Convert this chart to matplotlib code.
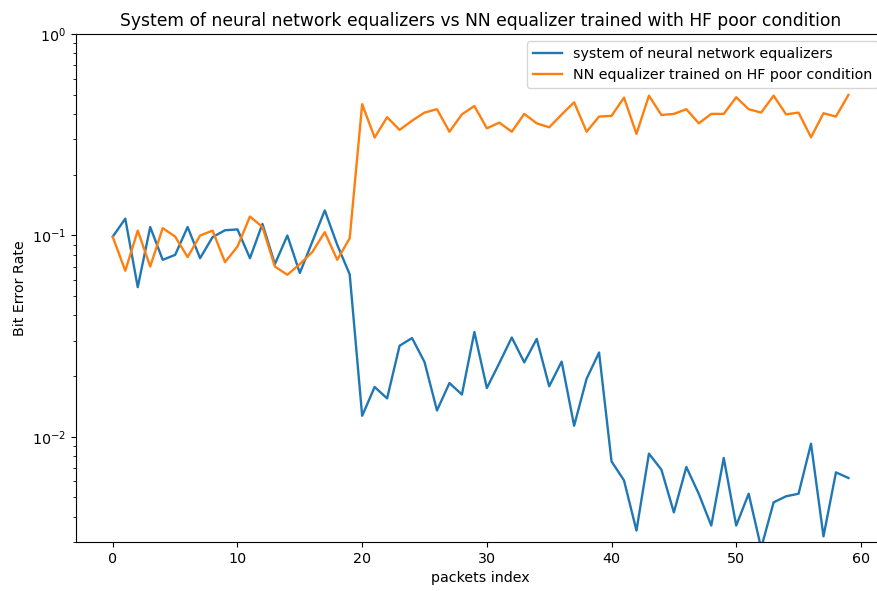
import matplotlib
matplotlib.use("Agg")
import matplotlib.pyplot as plt
import numpy as np

plt.rcParams["font.size"] = 10.3

packets = np.arange(60)

# BER per packet, system of equalizers
ber_system = [0.0986, 0.121, 0.0553, 0.110, 0.0756, 0.080, 0.110, 0.077, 0.098, 0.106,
              0.107, 0.077, 0.114, 0.072, 0.0998, 0.065, 0.093, 0.133, 0.0897, 0.064,
              0.0127, 0.01766, 0.0155, 0.0283, 0.0309, 0.0235, 0.0135, 0.01847, 0.0162, 0.0331,
              0.01745, 0.0232, 0.0311, 0.0234, 0.0306, 0.0178, 0.0236, 0.01134, 0.0194, 0.0262,
              0.00754, 0.00607, 0.00342, 0.00824, 0.00686, 0.00421, 0.00707, 0.0052, 0.00362, 0.00784,
              0.00362, 0.00521, 0.0028, 0.00472, 0.00506, 0.00521, 0.00923, 0.0032, 0.00665, 0.00624]

# BER per packet, single NN trained on HF poor condition
ber_single = [0.098, 0.0667, 0.1056, 0.070, 0.1086, 0.0986, 0.078, 0.0998, 0.1056, 0.0736,
              0.088, 0.124, 0.110, 0.070, 0.0637, 0.072, 0.0826, 0.1037, 0.0756, 0.0968,
              0.448, 0.306, 0.386, 0.334, 0.371, 0.407, 0.423, 0.327, 0.399, 0.439,
              0.340, 0.363, 0.327, 0.401, 0.360, 0.344, 0.398, 0.458, 0.327, 0.389,
              0.392, 0.483, 0.319, 0.494, 0.396, 0.401, 0.423, 0.360, 0.401, 0.401,
              0.485, 0.423, 0.407, 0.494, 0.399, 0.407, 0.307, 0.404, 0.389, 0.498]

fig = plt.figure(figsize=(8.78, 5.91), dpi=100)
# right edge of the axes runs a little past the canvas
ax = fig.add_axes([0.0866, 0.0829, 0.9216, 0.8596])

ax.plot(packets, ber_system, lw=1.7, label="system of neural network equalizers")
ax.plot(packets, ber_single, lw=1.7, label="NN equalizer trained on HF poor condition")
ax.set_yscale("log")
ax.set_ylim(0.003, 1)

ax.set_title("System of neural network equalizers vs NN equalizer trained with HF poor condition",
             fontsize=12.3)
ax.set_xlabel("packets index")
ax.set_ylabel("Bit Error Rate")
ax.legend(loc="upper right")

fig.savefig("out.png", dpi=100)
